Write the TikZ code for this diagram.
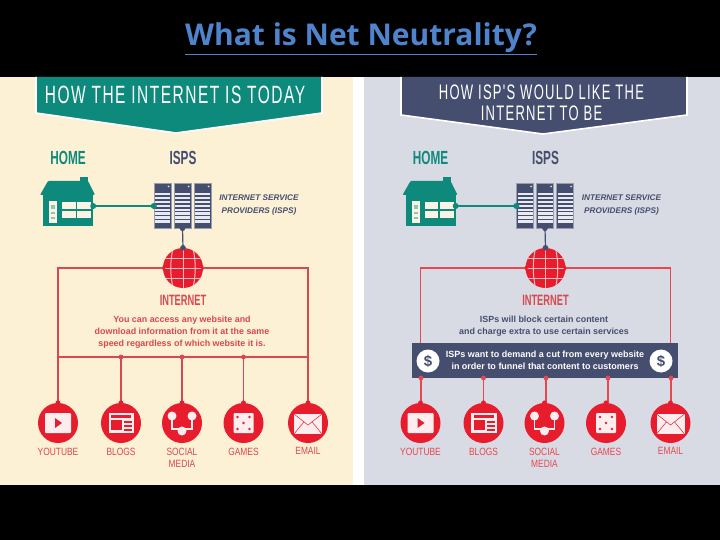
\documentclass[tikz,border=0pt]{standalone}
\usepackage{fontspec}
\setmainfont{Liberation Sans}
\newfontfamily\titlefont{Open Sans}
\newfontfamily\cond[FakeStretch=0.62,LetterSpace=6]{Liberation Sans}
\newfontfamily\condb[FakeStretch=0.62]{Liberation Sans}
\newfontfamily\condl[FakeStretch=0.8]{Liberation Sans}
\definecolor{teal1}{HTML}{0E8A7D}
\definecolor{slate}{HTML}{454E6E}
\definecolor{redc}{HTML}{E71D2E}
\definecolor{line1}{HTML}{D9474F}
\definecolor{line2}{HTML}{E8474F}
\definecolor{cream}{HTML}{FDF1D5}
\definecolor{greyb}{HTML}{D8DBE3}
\definecolor{titleblue}{HTML}{4F84CC}
\definecolor{pane}{HTML}{FBF3E4}
\tikzset{
  banner/.style={fill=#1,draw=white,line width=1.6pt,line join=miter},
  head/.style={text=white,font=\cond\fontsize{25}{26}\selectfont,align=center,inner sep=0pt},
  sub/.style={font=\condb\bfseries\fontsize{19}{20}\selectfont,inner sep=0pt},
  isptxt/.style={font=\bfseries\itshape\fontsize{8.2}{13}\selectfont,text=slate,align=center,inner sep=0pt},
  inettxt/.style={font=\condb\bfseries\fontsize{15}{16}\selectfont,text=line1,inner sep=0pt},
  desc/.style={font=\bfseries\fontsize{8.9}{12}\selectfont,align=center,inner sep=0pt},
  lab/.style={font=\condl\fontsize{10.5}{12}\selectfont,align=center,inner sep=0pt,anchor=north},
  svc/.style={circle,fill=redc,minimum size=40pt,inner sep=0pt},
  jdot/.style={circle,fill=#1,minimum size=5pt,inner sep=0pt},
  rack/.style={fill=slate,draw=slate!55!white,line width=.5pt,minimum width=17pt,minimum height=45pt,inner sep=0pt},
}
% server rack
\newcommand\rackat[3]{%
  \node[rack] (#1) at (#2,#3) {};
  \foreach \yy in {193,196.9,...,224}{\fill[greyb!55!white] (#2-7.5,\yy) rectangle (#2+7.5,\yy+2.5);}
  \fill[greyb] (#2+6,186.5) circle (1);
}
\newcommand\panelbody[5]{% prefix, shift, frame colour, label colour, isp text colour
\begin{scope}[xshift=#2]
  % house
  \fill[teal1] (80,177) rectangle (88,184);
  \node[fill=teal1,minimum width=50pt,minimum height=31pt,inner sep=0pt] (#1home) at (68,210.5) {};
  \fill[teal1,rounded corners=1pt] (40,195) -- (48,181) -- (88,181) -- (95,195) -- cycle;
  \fill[pane] (49,201) rectangle (57,223);
  \fill[teal1!45!pane] (51,205) rectangle (55,209);
  \fill[teal1!45!pane] (51,212) rectangle (55,214);
  \fill[teal1!45!pane] (51,217) rectangle (55,219);
  \fill[pane] (62,202) rectangle (75.5,209.5);
  \fill[pane] (77,202) rectangle (91,209.5);
  \fill[pane] (62,211) rectangle (75.5,218);
  \fill[pane] (77,211) rectangle (91,218);
  \node[sub,text=teal1] (#1hometxt) at (68,158) {HOME};
  \node[sub,text=slate] (#1isptxt) at (183,158) {ISPS};
  % servers
  \rackat{#1ra}{162.5}{205.5}
  \rackat{#1rb}{182.5}{205.5}
  \rackat{#1rc}{202.5}{205.5}
  \node[isptxt,text=#5] (#1ispnote) at (259,205) {INTERNET SERVICE\\PROVIDERS (ISPS)};
  % globe
  \node[circle,fill=redc,minimum size=40pt,inner sep=0pt] (#1globe) at (183,268) {};
  \begin{scope}
    \clip (183,268) circle (20);
    \foreach \dx in {-10,10}{\draw[white!70!redc,line width=1pt] (183+\dx,248) .. controls (183+\dx*1.3,262) and (183+\dx*1.3,274) .. (183+\dx,288);}
    \draw[white!70!redc,line width=1pt] (183,248) -- (183,288);
    \foreach \yy in {258,268,278}{\draw[white!70!redc,line width=1pt] (160,\yy) -- (206,\yy);}
  \end{scope}
  \fill[redc] (161.5,268) -- (165,263.5) -- (165,272.5) -- cycle;
  \fill[redc] (204.5,268) -- (201,263.5) -- (201,272.5) -- cycle;
  % connectors
  \draw[teal1,line width=1.4pt] (#1home.east |- 0,206) coordinate (#1h) -- (#1ra.west |- 0,206) coordinate (#1s);
  \node[jdot=teal1,minimum size=6pt] at (#1h) {};
  \node[jdot=teal1,minimum size=6pt] at (#1s) {};
  \draw[slate,line width=1.2pt] (#1rb.south) -- (#1globe.north);
  \fill[slate] (#1rb.south) circle (2.8);
  \fill[slate] (#1globe.north) circle (2.8);
  % service circles
  \node[svc] (#1yt) at (58,423) {};
  \node[svc] (#1bl) at (121,423) {};
  \node[svc] (#1so) at (182,423) {};
  \node[svc] (#1ga) at (243.5,423) {};
  \node[svc] (#1em) at (308,423) {};
  \fill[white!92!redc,rounded corners=1pt] (45,413) rectangle (71,433);
  \fill[redc] (55,418) -- (62,423) -- (55,428) -- cycle;
  \fill[white!92!redc] (108.5,413) rectangle (134,433);
  \fill[redc] (111,415) rectangle (131,418);
  \fill[redc] (111,420) rectangle (122,430);
  \foreach \yy in {421,425,429}{\fill[redc] (124,\yy) rectangle (132,\yy+1.6);}
  \draw[white!92!redc,line width=1.8pt] (172,416) -- (172,429) -- (192,429) -- (192,416);
  \fill[white!92!redc] (172,416) circle (4.5) (192,416) circle (4.5) (182,431) circle (4.5);
  \fill[white!92!redc,rounded corners=1pt] (233.5,413) rectangle (253.5,433);
  \foreach \px/\py in {237.5/417,249.5/417,243.5/423,237.5/429,249.5/429}{\fill[redc] (\px,\py) circle (1.3);}
  \fill[white!92!redc] (294,414) rectangle (322,434);
  \draw[redc,line width=.5pt] (294,414) -- (308,425) -- (322,414) (294,434) -- (304,421.8) (322,434) -- (312,421.8);
  \node[lab,text=#4] (#1ytl) at (#1yt.south |- 0,447.5) {YOUTUBE};
  \node[lab,text=#4] (#1bll) at (#1bl.south |- 0,447.5) {BLOGS};
  \node[lab,text=#4] (#1sol) at (#1so.south |- 0,447.5) {SOCIAL\\MEDIA};
  \node[lab,text=#4] (#1gal) at (#1ga.south |- 0,447.5) {GAMES};
  \node[lab,text=#4] (#1eml) at (#1em.south |- 0,447.5) {EMAIL};
  \node[inettxt] (#1inet) at (183,300) {INTERNET};
\end{scope}
}
\begin{document}
\begin{tikzpicture}[x=1pt,y=-1pt]
\useasboundingbox (0,0) rectangle (720,540);
\fill[black] (0,0) rectangle (720,540);
\fill[white] (353,77) rectangle (364,485);
\fill[cream] (0,77) rectangle (353,485);
\fill[greyb] (364,77) rectangle (720,485);
\node[inner sep=0pt,text=titleblue,font=\titlefont\bfseries\fontsize{30}{32}\selectfont] (title) at (361,38.5) {\underline{What is Net Neutrality?}};
% banners
\draw[banner=teal1] (36,77) -- (36,113) -- (176,133) -- (322,113) -- (322,77);
\node[head] (lhead) at (175,95) {HOW THE INTERNET IS TODAY};
\draw[banner=slate] (401,77) -- (401,115) -- (543,134) -- (687,115) -- (687,77);
\node[head,font=\cond\fontsize{21}{21}\selectfont] (rhead) at (541.5,102.5) {HOW ISP'S WOULD LIKE THE\\INTERNET TO BE};
% frames, drawn under the panels' circles
\draw[line1,line width=1.3pt] (58,357) -- (308,357);
\draw[line1,line width=1.3pt] (121,357) -- (121,403) (182,357) -- (182,403) (243.5,357) -- (243.5,403);
\foreach \px in {121,182,243.5}{\fill[line1] (\px,357) circle (2.4);}
\draw[line2,line width=1.3pt] (421,403) -- (421,378) (483.5,403) -- (483.5,378) (546,403) -- (546,378) (608,403) -- (608,378) (671,403) -- (671,378);
\panelbody{L}{0pt}{line1}{line1}{slate}
\panelbody{R}{362.5pt}{line2}{line2}{slate}
% frame lines from globe to service circles
\draw[line1,line width=1.3pt] (Lglobe.west) -| (Lyt.north);
\draw[line1,line width=1.3pt] (Lglobe.east) -| (Lem.north);
\draw[line2,line width=1.3pt] (Rglobe.west) -| (Ryt.north);
\draw[line2,line width=1.3pt] (Rglobe.east) -| (Rem.north);
\foreach \n in {Lyt,Lbl,Lso,Lga,Lem,Ryt,Rbl,Rso,Rga,Rem}{\fill[redc] (\n.north) circle (2.4);}
% descriptions
\node[desc,text=line1] (ldesc) at (182,332) {You can access any website and\\download information from it at the same\\speed regardless of which website it is.};
\node[desc,text=slate] (rdesc) at (544,326) {ISPs will block certain content\\and charge extra to use certain services};
% fee box
\node[fill=slate,minimum width=266pt,minimum height=35pt,inner sep=0pt] (fee) at (545,360.5) {};
\node[desc,text=white,font=\bfseries\fontsize{9}{11.5}\selectfont] (feetxt) at (545,360.5) {ISPs want to demand a cut from every website\\in order to funnel that content to customers};
\node[circle,fill=white,minimum size=23pt,inner sep=0pt,text=slate,font=\bfseries\fontsize{15}{15}\selectfont] (d1) at (428,361) {\$};
\node[circle,fill=white,minimum size=23pt,inner sep=0pt,text=slate,font=\bfseries\fontsize{15}{15}\selectfont] (d2) at (661,361) {\$};
\foreach \px in {421,483.5,546,608,671}{\fill[line2] (\px,378) circle (2.4);}
\end{tikzpicture}
\end{document}
